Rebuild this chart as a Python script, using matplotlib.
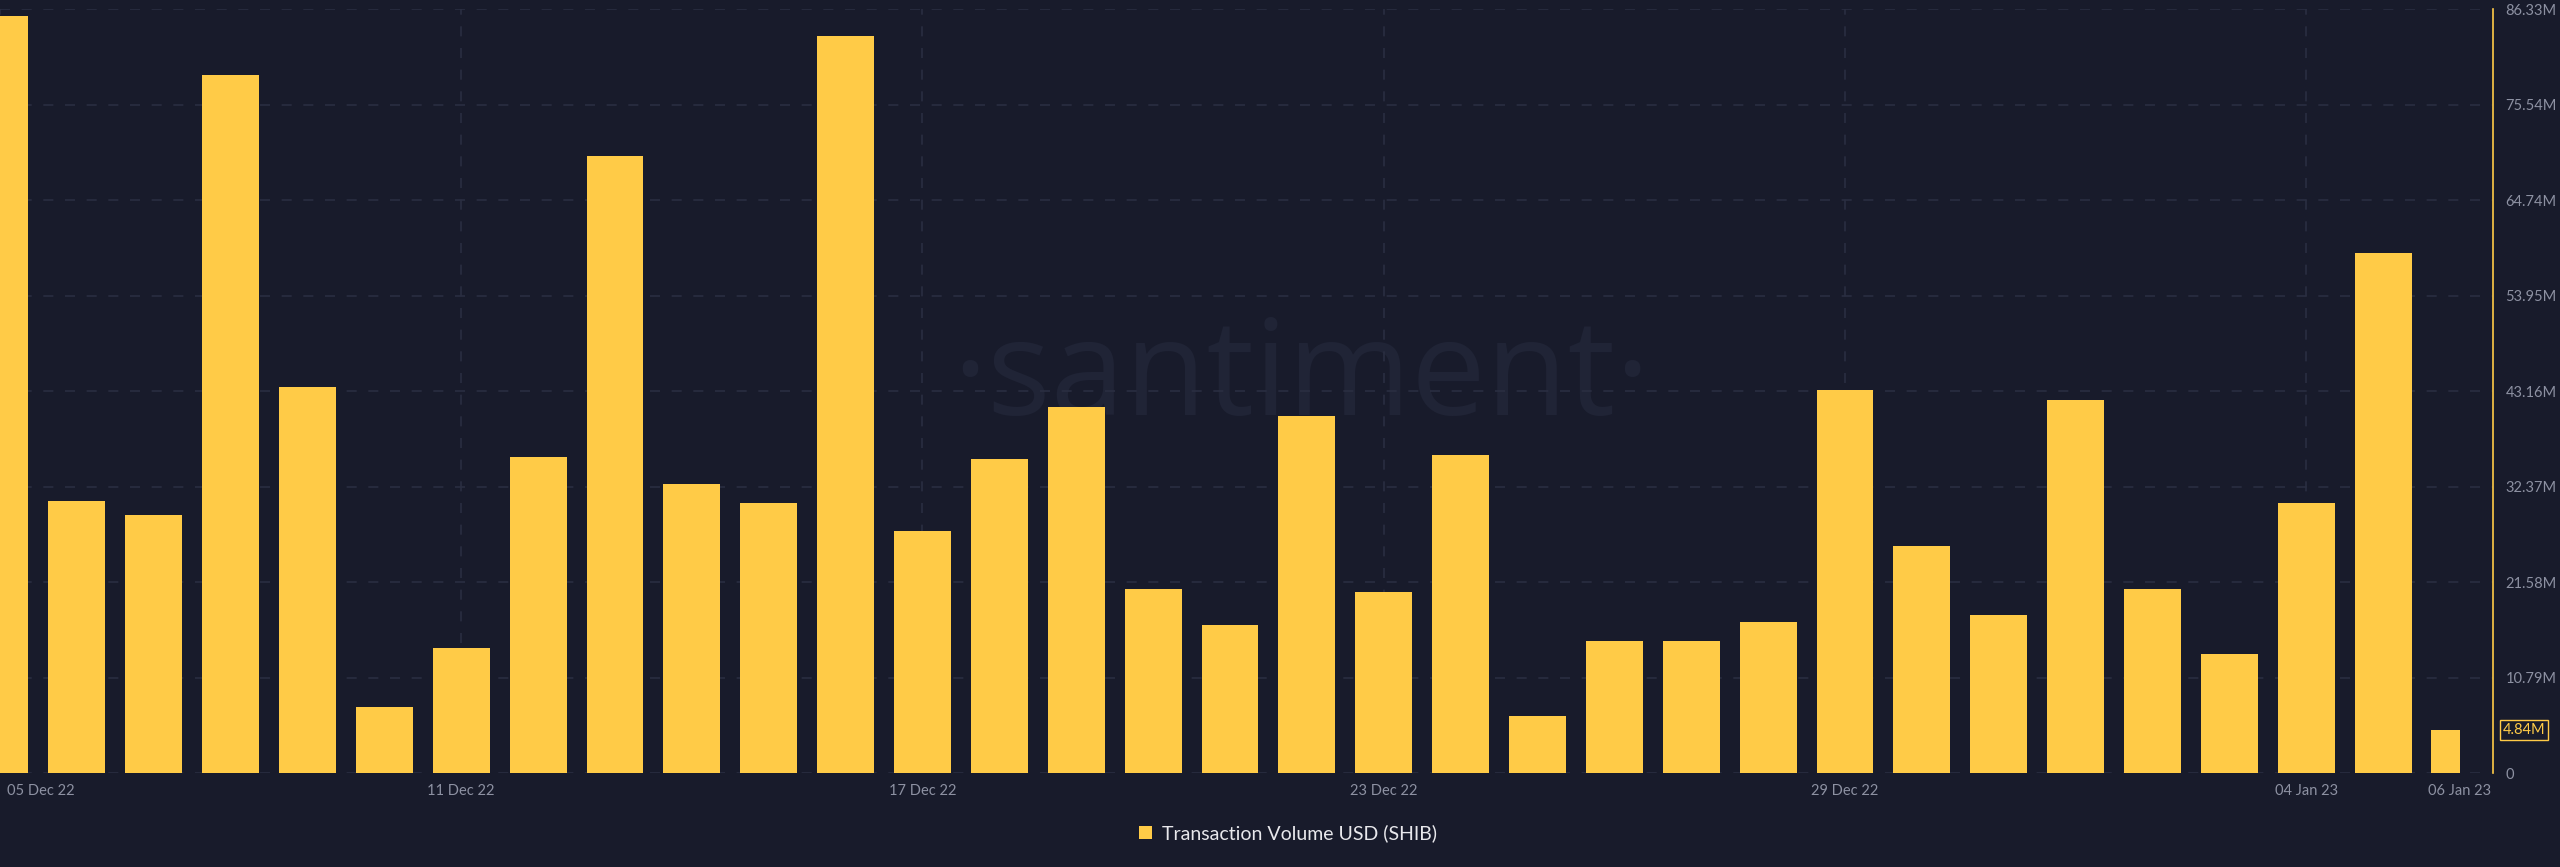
import matplotlib
matplotlib.use("Agg")
import matplotlib.pyplot as plt
import matplotlib.dates as mdates
import matplotlib.transforms as mtransforms
import pandas as pd
from matplotlib.patches import Patch

# Daily SHIB transaction volume in USD (millions), 05 Dec 22 .. 06 Jan 23.
dates = pd.date_range("2022-12-05", "2023-01-06", freq="D")
volume_musd = [
    85.5, 30.7, 29.2, 78.9, 43.6, 7.5, 14.1, 35.7, 69.7, 32.7, 30.5,
    83.3, 27.4, 35.5, 41.4, 20.8, 16.7, 40.3, 20.4, 35.9, 6.4, 14.9,
    14.9, 17.1, 43.3, 25.7, 17.8, 42.2, 20.8, 13.4, 30.5, 58.8, 4.84,
]
y_ticks_musd = [0, 10.79, 21.58, 32.37, 43.16, 53.95, 64.74, 75.54, 86.33]
x_label_dates = ["2022-12-05", "2022-12-11", "2022-12-17", "2022-12-23",
                 "2022-12-29", "2023-01-04", "2023-01-06"]
grid_dates = ["2022-12-05", "2022-12-11", "2022-12-17", "2022-12-23",
              "2022-12-29", "2023-01-04"]
series_label = "Transaction Volume USD (SHIB)"

BG = "#181b2b"
BAR = "#ffcb47"
GRID = "#2a2e41"
TICK = "#8d91a2"
WATERMARK = "#202436"

plt.rcParams["font.family"] = ["Lato", "DejaVu Sans"]

fig = plt.figure(figsize=(25.6, 8.67), dpi=100, facecolor=BG)
ax = fig.add_axes([0.0, 0.1084, 0.9738, 0.8812], facecolor=BG)

vals = [v * 1e6 for v in volume_musd]
bar_w = 0.74
# Complete days are centred on the date; the running (latest) day is a half bar.
ax.bar(dates[:-1], vals[:-1], width=bar_w, color=BAR, zorder=3)
ax.bar(dates[-1:], vals[-1:], width=-bar_w / 2, align="edge", color=BAR, zorder=3)

ax.set_xlim(dates[0], dates[-1] + pd.Timedelta(hours=10.3))
ax.set_ylim(0, y_ticks_musd[-1] * 1e6)

# Watermark behind the bars.
ax.text(0.522, 0.515, "\u00b7santiment\u00b7", transform=ax.transAxes,
        ha="center", va="center", fontsize=96, color=WATERMARK,
        family=["Open Sans", "DejaVu Sans"], zorder=1)

# Grid.
ax.yaxis.tick_right()
ax.set_yticks([t * 1e6 for t in y_ticks_musd])
ax.set_yticklabels(["0"] + [f"{t:.2f}M" for t in y_ticks_musd[1:]])
ax.grid(axis="y", color=GRID, lw=1.2, linestyle=(0, (6, 7)), zorder=2)
for d in grid_dates:
    ax.axvline(pd.Timestamp(d), color=GRID, lw=1.2, linestyle=(0, (6, 7)), zorder=2)

ax.set_xticks(pd.to_datetime(x_label_dates))
ax.xaxis.set_major_formatter(mdates.DateFormatter("%d %b %y"))
ax.tick_params(axis="both", length=0, colors=TICK, labelsize=10.5)
ax.tick_params(axis="y", pad=9)
ax.tick_params(axis="x", pad=8)
first = ax.get_xticklabels()[0]
first.set_horizontalalignment("left")
first.set_transform(first.get_transform()
                    + mtransforms.ScaledTranslation(0.07, 0, fig.dpi_scale_trans))

for side in ["left", "top", "bottom"]:
    ax.spines[side].set_visible(False)
ax.spines["right"].set_color(BAR)
ax.spines["right"].set_linewidth(1.2)

# Latest value marker on the axis.
ax.annotate(f"{volume_musd[-1]:.2f}M", xy=(1.0, vals[-1]),
            xycoords=("axes fraction", "data"), xytext=(7, 0),
            textcoords="offset points", ha="left", va="center",
            fontsize=10.5, color=BAR, annotation_clip=False,
            bbox=dict(boxstyle="square,pad=0.2", fc=BG, ec=BAR, lw=1))

handle = Patch(facecolor=BAR, edgecolor="none")
fig.legend([handle], [series_label], loc="center", bbox_to_anchor=(0.503, 0.039),
           frameon=False, fontsize=14, labelcolor="#e8e8ec",
           handlelength=0.7, handleheight=0.7, handletextpad=0.5)

fig.savefig("out.png", dpi=100, facecolor=BG)
